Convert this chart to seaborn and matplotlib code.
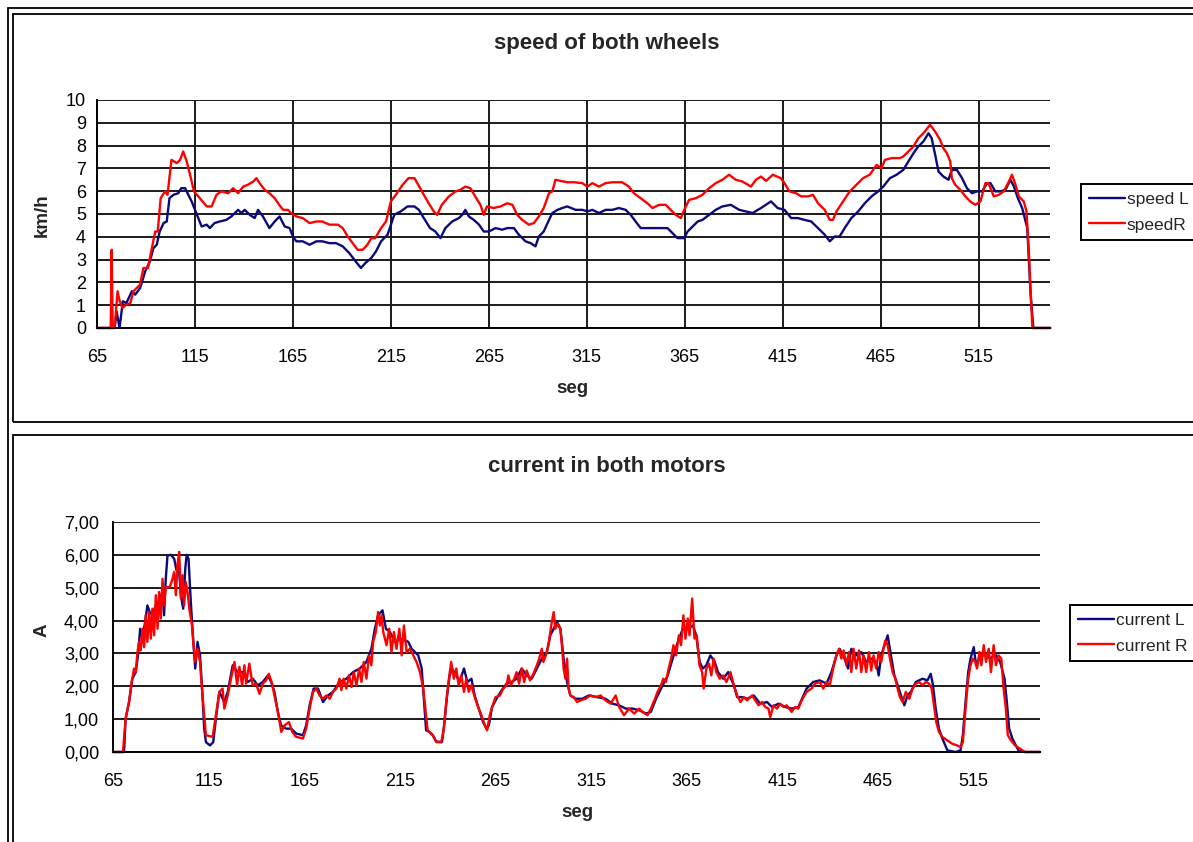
import numpy as np
import pandas as pd
import seaborn as sns
import matplotlib.pyplot as plt
from matplotlib.patches import Rectangle
from matplotlib.ticker import FuncFormatter

sns.set_style("white")
plt.rcParams['font.family'] = ['Liberation Sans', 'DejaVu Sans']

# speed of both wheels (km/h)
speed_seg_L = [65, 74, 75, 76.5, 78.2, 80, 82.8, 84.5, 87, 89.6,
               92, 93.8, 95.5, 97, 99, 100.6, 102, 104, 106.5, 108,
               110, 111.6, 113.3, 115, 116.7, 118.4, 121, 122.6, 125, 127.7,
               131, 133.6, 137, 138.7, 140.4, 143, 145.5, 147.2, 149.7, 153,
               155.7, 158.2, 160.8, 163.3, 165, 166.7, 170, 173.5, 177, 180,
               183.6, 187, 190.4, 193.8, 197, 199.7, 202, 205, 207.4, 210,
               213.3, 215, 216.7, 220, 223.5, 227, 229.3, 231.8, 235, 237.7,
               240.3, 242.8, 246.3, 249.7, 251.4, 253, 254.8, 257.3, 260, 262.4,
               265, 268.4, 271.8, 274.4, 277.8, 280.3, 283.7, 286.3, 288.8, 290.5,
               293, 295.7, 297.4, 300, 302.5, 305, 309.3, 312.7, 315.3, 317.8,
               321.2, 324.6, 328, 331.4, 334.8, 337.4, 339.9, 342.5, 346.8, 351.9,
               356.2, 358.7, 361.3, 364.7, 366.4, 369, 371.6, 374, 377.4, 380.8,
               384.2, 388.5, 392.8, 399.6, 403.9, 409, 412.4, 415.9, 419.3, 422.7,
               426.1, 429.5, 433, 436.4, 439, 441.5, 444, 446.6, 450, 453.5,
               456.9, 460.3, 463.7, 466.3, 469.7, 473.1, 476.5, 479.1, 481.7, 484.2,
               486.8, 489.4, 491, 492.8, 494.5, 497, 499.6, 501.3, 503.9, 506.5,
               509, 511.6, 514.1, 516.7, 519.3, 521, 523.5, 526.1, 528.7, 531.2,
               533, 535, 537.2, 539.8, 541.5, 542.9, 551.5]
speed_L = [0, 0, 0.73, 0, 1.17, 1.09, 1.61, 1.46, 1.75, 2.48,
           2.92, 3.50, 3.65, 4.23, 4.60, 4.67, 5.69, 5.84, 5.91, 6.13,
           6.13, 5.84, 5.55, 5.18, 4.82, 4.45, 4.53, 4.38, 4.60, 4.67,
           4.74, 4.89, 5.18, 5.04, 5.18, 4.96, 4.82, 5.18, 4.89, 4.38,
           4.67, 4.89, 4.45, 4.38, 4.01, 3.80, 3.80, 3.65, 3.80, 3.80,
           3.72, 3.72, 3.58, 3.28, 2.92, 2.63, 2.85, 3.07, 3.36, 3.80,
           4.09, 4.53, 4.96, 5.11, 5.33, 5.33, 5.18, 4.82, 4.38, 4.23,
           3.94, 4.38, 4.67, 4.82, 4.96, 5.18, 4.89, 4.74, 4.53, 4.23,
           4.23, 4.38, 4.31, 4.38, 4.38, 4.09, 3.80, 3.72, 3.58, 4.01,
           4.23, 4.74, 5.04, 5.18, 5.26, 5.33, 5.18, 5.18, 5.11, 5.18,
           5.04, 5.18, 5.18, 5.26, 5.18, 4.96, 4.67, 4.38, 4.38, 4.38,
           4.38, 4.16, 3.94, 3.94, 4.23, 4.45, 4.67, 4.74, 4.96, 5.18,
           5.33, 5.40, 5.18, 5.04, 5.26, 5.55, 5.26, 5.18, 4.82, 4.82,
           4.74, 4.67, 4.38, 4.09, 3.80, 4.01, 4.01, 4.38, 4.82, 5.11,
           5.47, 5.77, 5.99, 6.20, 6.57, 6.72, 6.93, 7.30, 7.66, 7.96,
           8.18, 8.54, 8.32, 7.59, 6.86, 6.64, 6.50, 6.93, 6.93, 6.57,
           6.13, 5.91, 5.99, 5.99, 6.35, 6.35, 5.99, 5.99, 6.06, 6.50,
           6.20, 5.69, 5.26, 4.38, 1.46, 0, 0]

speed_seg_R = [65, 72, 72.5, 73, 74, 75.5, 76.5, 78, 80, 82,
               83.6, 87, 88.7, 91, 93, 94.7, 96, 97.5, 99.7, 101,
               103, 105.7, 107.4, 109, 110.8, 112.5, 114.5, 117.5, 121, 123.5,
               126, 128.5, 132, 134.5, 137, 139.6, 142, 144.7, 146.4, 148,
               150.6, 153, 155.7, 158, 160, 162.5, 164, 166.7, 170, 173.5,
               177, 180, 183.6, 188, 190.4, 193, 195.5, 198, 200.6, 203,
               205, 207, 210, 212.5, 215, 217.5, 221, 224, 227, 229.5,
               231.8, 234.3, 236.9, 238.6, 241, 244.6, 248, 250.5, 253, 255.6,
               258, 260.7, 262.4, 264, 267.5, 271, 274.4, 277, 279.5, 282,
               285.4, 288, 290.5, 293, 295.7, 297.4, 299, 301.6, 305, 308.4,
               312.7, 315.3, 317.8, 321.2, 324.6, 328, 333, 336.5, 339, 342.5,
               345.9, 348.5, 351.9, 355.3, 357.8, 360.4, 363, 364.7, 367.2, 370.6,
               374, 377.4, 380.8, 384.2, 387.6, 391, 394.5, 398.8, 401.3, 403.9,
               406.5, 409.9, 414, 415.9, 418.4, 421.8, 424.4, 427.8, 430.4, 433,
               436.4, 439, 440.6, 442.4, 445.8, 449.2, 452.6, 456, 459.4, 462.9,
               465.4, 467.1, 470.6, 474.8, 476.5, 479.1, 481.7, 484.2, 486.8, 490.2,
               492.8, 495.3, 497, 498.8, 500.5, 501.3, 503, 505.6, 508.2, 510.7,
               513.3, 515.9, 518.4, 520, 522.7, 525.3, 527.8, 530.4, 532, 533.8,
               535.5, 538, 539.4, 540.6, 542.4, 551.5]
speed_R = [0, 0, 3.43, 0, 0, 1.61, 1.20, 0.88, 1.02, 1.09,
           1.61, 1.90, 2.63, 2.63, 3.50, 4.23, 4.23, 5.69, 5.99, 5.84,
           7.37, 7.23, 7.37, 7.74, 7.30, 6.72, 5.99, 5.69, 5.33, 5.33,
           5.84, 5.99, 5.91, 6.13, 5.91, 6.20, 6.28, 6.42, 6.57, 6.35,
           6.06, 5.91, 5.69, 5.40, 5.18, 5.18, 5.04, 4.89, 4.82, 4.60,
           4.67, 4.67, 4.53, 4.53, 4.38, 4.01, 3.72, 3.43, 3.43, 3.65,
           3.94, 3.94, 4.38, 4.67, 5.55, 5.84, 6.28, 6.57, 6.57, 6.20,
           5.84, 5.47, 5.11, 4.96, 5.40, 5.77, 5.99, 6.06, 6.20, 6.13,
           5.77, 5.40, 4.96, 5.33, 5.26, 5.33, 5.47, 5.40, 4.96, 4.74,
           4.53, 4.60, 4.89, 5.26, 5.91, 5.99, 6.50, 6.45, 6.39, 6.39,
           6.35, 6.20, 6.35, 6.20, 6.35, 6.39, 6.39, 6.20, 5.91, 5.69,
           5.47, 5.26, 5.40, 5.40, 5.18, 4.96, 4.82, 5.18, 5.62, 5.69,
           5.84, 6.13, 6.35, 6.50, 6.72, 6.50, 6.42, 6.20, 6.50, 6.64,
           6.45, 6.72, 6.57, 6.35, 5.99, 5.91, 5.77, 5.77, 5.84, 5.47,
           5.18, 4.74, 4.74, 5.11, 5.55, 5.99, 6.28, 6.57, 6.72, 7.15,
           7.01, 7.37, 7.45, 7.45, 7.52, 7.74, 7.96, 8.32, 8.54, 8.91,
           8.61, 8.25, 7.88, 7.66, 7.30, 6.57, 6.28, 6.06, 5.77, 5.55,
           5.40, 5.55, 6.35, 6.35, 5.77, 5.84, 5.99, 6.42, 6.72, 6.28,
           5.77, 5.55, 5.11, 3.36, 0, 0]

# current in both motors (A)
cur_seg_L = [65, 70.8, 71.6, 73.4, 75.1, 76.9, 78.1, 79.2, 80.4, 81.8,
             83, 84.2, 85.6, 87.4, 89.1, 90.9, 91.7, 92.6, 93.5, 95.2,
             97, 98.2, 99.3, 100.5, 101.7, 102.8, 103.5, 104.5, 105.7, 107,
             108, 109.2, 110.5, 111.5, 112.7, 113.6, 115.7, 117.4, 118.8, 120.6,
             123.2, 125, 127.6, 130.2, 132.8, 135.5, 138.1, 140.7, 143.3, 146,
             147.7, 149.4, 151.2, 152.9, 155.6, 158.2, 160.8, 164.3, 166, 167.8,
             169.9, 172.2, 174.8, 177.4, 180, 183.5, 187, 190.5, 194, 197.5,
             200.1, 201.9, 203.6, 205.9, 207.7, 209.8, 212.4, 215, 217.6, 219.4,
             221.1, 222.9, 224.6, 226.4, 228.7, 230.4, 232.2, 234, 237, 238.3,
             239.7, 241, 242.2, 244.5, 246.2, 248.5, 250.3, 252.4, 254.1, 256.2,
             258.5, 260.3, 261.5, 263.2, 265.5, 268.2, 270.8, 273.4, 276, 278.7,
             281.3, 283.9, 286.6, 289.2, 291.8, 293.6, 295.4, 297.1, 298.9, 300.6,
             302.4, 304.1, 306.8, 310.3, 313.8, 318.2, 322.5, 326.1, 329.6, 333.1,
             336.6, 340.1, 343.6, 346.2, 348.9, 352.4, 355, 357.6, 360.3, 362.9,
             365.5, 368.2, 369.9, 371.7, 373.4, 375.2, 377.3, 379.6, 381.3, 384,
             386.6, 389.6, 391.3, 393.9, 396.5, 400, 403.4, 406.9, 409.5, 412.9,
             416.4, 419.8, 423.3, 427.6, 431.1, 434.5, 438, 440.6, 443.2, 444.9,
             447.5, 449.3, 451, 453.6, 456.2, 458.8, 461.4, 464, 465.3, 466.6,
             468.3, 470, 471.7, 473.5, 475.2, 476.9, 478.7, 480.4, 482.1, 484.7,
             488.2, 490.8, 492.5, 493.7, 495.1, 496.8, 498.6, 501.2, 505.5, 508.1,
             509.3, 510.7, 512.1, 513.3, 515, 516.2, 518.5, 521.1, 523.7, 526.2,
             528.8, 531.1, 532.3, 533.5, 535.2, 537, 538.4, 541.8, 549.6]
cur_L = [0, 0, 1.01, 1.52, 2.23, 2.43, 2.94, 3.75, 3.45, 3.96,
         4.46, 4.26, 4.16, 4.46, 4.56, 4.87, 4.16, 5.27, 5.98, 6.00,
         5.88, 5.53, 5.68, 4.77, 4.36, 5.58, 6.00, 5.88, 4.56, 3.35,
         2.54, 3.35, 2.94, 2.03, 0.71, 0.30, 0.20, 0.30, 1.01, 1.83,
         1.52, 1.83, 2.64, 2.43, 2.43, 2.13, 2.23, 2.03, 2.13, 2.33,
         2.13, 1.83, 1.22, 0.81, 0.71, 0.71, 0.56, 0.51, 0.81, 1.42,
         1.93, 1.93, 1.52, 1.72, 1.83, 2.13, 2.23, 2.43, 2.54, 2.74,
         3.14, 3.75, 4.16, 4.31, 3.75, 3.65, 3.35, 3.45, 3.40, 3.35,
         3.14, 3.04, 2.94, 2.54, 0.66, 0.61, 0.51, 0.32, 0.30, 0.91,
         1.72, 2.33, 2.54, 2.33, 2.13, 2.54, 2.13, 2.23, 1.72, 1.32,
         0.91, 0.71, 0.81, 1.37, 1.62, 1.88, 2.08, 2.13, 2.23, 2.54,
         2.33, 2.23, 2.54, 2.84, 3.04, 3.55, 3.75, 3.96, 3.75, 2.84,
         2.13, 1.72, 1.62, 1.62, 1.72, 1.67, 1.62, 1.47, 1.42, 1.32,
         1.32, 1.27, 1.17, 1.22, 1.62, 2.03, 2.33, 2.84, 3.35, 3.75,
         3.75, 3.85, 3.55, 2.74, 2.54, 2.64, 2.94, 2.74, 2.43, 2.23,
         2.43, 2.03, 1.67, 1.67, 1.62, 1.72, 1.47, 1.52, 1.37, 1.47,
         1.37, 1.32, 1.37, 1.93, 2.13, 2.18, 2.08, 2.43, 2.94, 3.14,
         2.84, 2.54, 3.14, 2.94, 3.04, 2.74, 2.84, 2.74, 2.33, 2.94,
         3.25, 3.55, 2.94, 2.33, 2.03, 1.72, 1.42, 1.72, 1.83, 2.13,
         2.23, 2.18, 2.38, 2.03, 1.32, 0.71, 0.41, 0.05, 0, 0.05,
         0.51, 1.52, 2.43, 2.84, 3.19, 2.64, 2.94, 2.94, 2.84, 2.99,
         2.74, 2.23, 1.52, 0.71, 0.41, 0.20, 0.05, 0, 0]

cur_seg_R = [65, 70.2, 71.6, 73.4, 74.8, 76, 76.9, 77.8, 78.6, 79.5,
             80.4, 81.3, 82.1, 83, 83.9, 84.8, 85.6, 86.5, 87.4, 88.3,
             89.1, 90, 90.9, 91.7, 92.6, 94.7, 96.1, 97, 97.9, 98.7,
             99.6, 100.5, 101.4, 102.2, 103.1, 104, 104.9, 106.3, 107, 108,
             109.2, 110.5, 111.5, 112.7, 113.6, 117.1, 118.8, 120.6, 122.3, 123.2,
             125, 126.7, 128.5, 129.9, 131.1, 132.5, 133.7, 134.6, 136.3, 138,
             139.8, 141.6, 143.3, 145.1, 146.5, 148.2, 149.4, 151.2, 153, 154.7,
             157, 158.7, 160.8, 164.3, 166, 167.8, 169.6, 171.3, 173, 174.8,
             176.5, 178.3, 180, 181.8, 183.5, 184.4, 185.6, 187, 188.4, 189.7,
             190.9, 192.3, 193.7, 194.9, 196.1, 197.5, 198.9, 200.1, 201, 202.4,
             203.6, 204.5, 205.4, 206.3, 208, 209.4, 210.6, 211.9, 213.2, 214.7,
             215.9, 217.1, 218.5, 220.2, 222, 223.7, 225.5, 227.2, 229.5, 232.2,
             234, 236.6, 238, 239.2, 240.4, 241.8, 243.2, 244.5, 245.7, 247.1,
             248.5, 249.7, 251, 252.4, 254.1, 255.9, 257.6, 259.4, 260.6, 262,
             263.2, 265, 267.3, 269, 270.8, 271.7, 273, 274.8, 276, 277.3,
             278.7, 280, 281.3, 283, 284.8, 286.6, 287.8, 289.2, 290, 291.3,
             292.7, 294.1, 295.4, 296.2, 297.6, 298.9, 299.7, 300.6, 301.5, 302.4,
             303.2, 304.1, 305.9, 307.6, 309.4, 312, 314.6, 317.3, 319.9, 322.5,
             325.2, 327.8, 329.6, 332.2, 334.8, 337.5, 340.1, 341.8, 344.5, 346.2,
             348, 349.7, 351.5, 352.7, 354.1, 355.5, 356.8, 358, 359.4, 360.8,
             362, 363.2, 364.3, 365.5, 366.4, 367.8, 369, 370.2, 371.6, 373,
             373.8, 375.2, 376.6, 377.8, 379, 380.4, 382.2, 384, 385.7, 387.8,
             389.6, 391.3, 393, 394.8, 396.5, 399.1, 400.8, 402.5, 404.3, 406,
             407.7, 408.6, 410.3, 412.1, 413.8, 415.5, 417.2, 419.8, 421.6, 423.3,
             425, 427.6, 430.2, 432, 434.5, 436.3, 438, 439.7, 441.5, 443.2,
             444.6, 445.8, 447, 448.4, 449.8, 451, 452.2, 453.6, 455, 456.2,
             457.4, 458.8, 460.2, 461.4, 462.6, 464, 465.3, 466.6, 467.8, 468.8,
             470, 471.2, 472.6, 474, 475.2, 476.4, 477.8, 479.5, 481.3, 483,
             484.7, 486.5, 488.2, 489.9, 491.6, 493, 494.2, 495.4, 496.8, 498.6,
             501.2, 503.8, 506.3, 508.1, 509.3, 510.7, 512.1, 513.3, 514.5, 515.9,
             516.7, 518, 519, 520.2, 521.4, 522.8, 524, 525.4, 526.6, 528,
             529.4, 530.6, 531.8, 532.8, 534.5, 536.6, 539.2, 541.8, 549.6]
cur_R = [0, 0, 1.01, 1.52, 2.13, 2.54, 2.43, 3.04, 3.35, 3.09,
         3.75, 3.19, 4.16, 3.35, 4.26, 3.45, 4.36, 3.55, 4.77, 3.75,
         4.87, 4.06, 5.27, 4.46, 5.02, 5.02, 5.27, 5.48, 4.77, 5.68,
         6.09, 4.67, 5.38, 4.46, 5.17, 4.87, 4.36, 3.85, 3.35, 2.74,
         3.14, 2.74, 1.93, 1.12, 0.51, 0.46, 1.12, 1.83, 1.93, 1.32,
         1.72, 2.23, 2.74, 2.03, 2.59, 2.03, 2.64, 2.08, 2.69, 2.03,
         2.08, 1.77, 2.08, 2.18, 2.38, 2.08, 1.72, 1.22, 0.61, 0.81,
         0.91, 0.61, 0.46, 0.41, 0.71, 1.32, 1.83, 1.93, 1.72, 1.62,
         1.72, 1.62, 1.83, 1.93, 2.23, 1.88, 2.23, 1.93, 2.33, 1.98,
         2.43, 2.03, 2.54, 2.13, 2.74, 2.23, 2.94, 2.64, 3.35, 3.65,
         4.26, 3.85, 4.16, 3.65, 3.25, 3.75, 3.04, 3.65, 3.14, 3.75,
         2.94, 3.85, 3.04, 3.14, 2.94, 2.74, 2.43, 1.93, 0.66, 0.51,
         0.30, 0.30, 0.71, 1.52, 2.13, 2.74, 2.23, 2.54, 2.03, 2.33,
         1.83, 2.23, 1.83, 2.03, 1.67, 1.37, 1.12, 0.81, 0.66, 1.12,
         1.37, 1.67, 1.72, 1.93, 2.03, 2.33, 2.03, 2.23, 2.43, 2.08,
         2.54, 2.13, 2.48, 2.18, 2.38, 2.64, 2.84, 3.14, 2.74, 2.94,
         3.25, 3.85, 4.26, 3.75, 3.90, 3.75, 3.25, 2.54, 2.23, 2.84,
         1.93, 1.72, 1.67, 1.52, 1.57, 1.62, 1.72, 1.67, 1.72, 1.57,
         1.47, 1.72, 1.37, 1.12, 1.32, 1.17, 1.32, 1.22, 1.12, 1.32,
         1.57, 1.83, 2.03, 2.23, 2.13, 2.54, 2.84, 3.25, 2.94, 3.55,
         3.25, 4.16, 3.45, 4.06, 3.55, 4.67, 3.45, 3.55, 2.64, 2.43,
         1.93, 2.54, 2.69, 2.33, 2.84, 2.43, 2.23, 2.33, 2.13, 2.43,
         2.03, 1.72, 1.52, 1.67, 1.57, 1.72, 1.57, 1.42, 1.52, 1.37,
         1.32, 1.06, 1.42, 1.32, 1.47, 1.37, 1.42, 1.22, 1.37, 1.32,
         1.57, 1.83, 1.93, 2.08, 2.13, 1.93, 2.13, 2.03, 2.54, 2.94,
         3.14, 2.84, 3.09, 2.64, 3.04, 2.43, 3.14, 2.54, 3.09, 2.43,
         2.94, 2.43, 3.04, 2.48, 2.94, 2.54, 3.04, 2.74, 3.14, 3.40,
         3.25, 2.84, 2.43, 2.23, 1.93, 1.67, 1.52, 1.83, 1.62, 1.93,
         2.08, 2.13, 2.03, 2.13, 2.08, 1.93, 1.42, 0.91, 0.61, 0.46,
         0.35, 0.25, 0.20, 0.15, 0.30, 1.32, 2.23, 2.64, 2.84, 2.74,
         2.54, 3.04, 2.64, 3.25, 2.74, 3.14, 2.43, 3.25, 2.64, 2.94,
         2.84, 1.93, 1.32, 0.51, 0.35, 0.20, 0.10, 0, 0]

seg_ticks = [65, 115, 165, 215, 265, 315, 365, 415, 465, 515]

navy = "#0a0a7a"
red = "#ff0000"
grid_kw = dict(color="#1a1a1a", linewidth=1.4)

fig = plt.figure(figsize=(11.93, 8.42), dpi=100)

# page and chart-area frames
fig.add_artist(Rectangle((0.0067, -0.1), 1.5, 1.0905, transform=fig.transFigure,
                         fill=False, ec="black", lw=1.3))
fig.add_artist(Rectangle((0.0109, 0.4988), 1.5, 0.4846, transform=fig.transFigure,
                         fill=False, ec="black", lw=1.3))
fig.add_artist(Rectangle((0.0109, -0.1), 1.5, 0.5834, transform=fig.transFigure,
                         fill=False, ec="black", lw=1.3))

ax1 = fig.add_axes([0.0813, 0.6105, 0.7990, 0.2708])
ax2 = fig.add_axes([0.0947, 0.1069, 0.7770, 0.2732])

line_kw = dict(lw=1.7, estimator=None, clip_on=False)
sns.lineplot(x=speed_seg_L, y=speed_L, ax=ax1, color=navy, label="speed L", **line_kw)
sns.lineplot(x=speed_seg_R, y=speed_R, ax=ax1, color=red, label="speedR", **line_kw)
sns.lineplot(x=cur_seg_L, y=cur_L, ax=ax2, color=navy, label="current L", **line_kw)
sns.lineplot(x=cur_seg_R, y=cur_R, ax=ax2, color=red, label="current R", **line_kw)

ax1.set_xlim(65, 551.5)
ax1.set_ylim(0, 10)
ax1.set_yticks(range(0, 11))
ax2.set_xlim(65, 549.6)
ax2.set_ylim(0, 7)
ax2.set_yticks(range(0, 8))
ax2.yaxis.set_major_formatter(FuncFormatter(lambda v, p: f"{v:.2f}".replace(".", ",")))

for ax in (ax1, ax2):
    ax.set_xticks(seg_ticks)
    ax.set_xlabel("")
    ax.set_ylabel("")
    ax.set_axisbelow(True)
    ax.yaxis.grid(True, **grid_kw)
    for s in ("top", "right"):
        ax.spines[s].set_visible(False)
    for s in ("left", "bottom"):
        ax.spines[s].set_color("black")
        ax.spines[s].set_linewidth(1.4)
    ax.tick_params(axis="both", direction="out", length=5, width=1.4,
                   color="black", labelsize=13, labelcolor="black")
    ax.tick_params(axis="x", pad=10)
ax1.tick_params(axis="y", pad=3)
ax2.tick_params(axis="y", pad=5)
ax1.xaxis.grid(True, **grid_kw)

leg_kw = dict(loc="upper left", bbox_transform=fig.transFigure, fontsize=12.5,
              frameon=True, fancybox=False, framealpha=1, edgecolor="black",
              handlelength=2.1, handletextpad=0.1, borderpad=0.45,
              labelspacing=0.6, borderaxespad=0)
lg1 = ax1.legend(bbox_to_anchor=(0.906, 0.7815), **leg_kw)
lg2 = ax2.legend(bbox_to_anchor=(0.897, 0.2815), **leg_kw)
for lg in (lg1, lg2):
    lg.get_frame().set_linewidth(1.4)
    for h in lg.get_lines():
        h.set_linewidth(1.7)

fig.text(0.509, 0.948, "speed of both wheels", ha="center", va="center",
         fontsize=16, fontweight="bold")
fig.text(0.509, 0.4465, "current in both motors", ha="center", va="center",
         fontsize=16, fontweight="bold")
fig.text(0.0352, 0.7447, "km/h", ha="center", va="center", rotation=90,
         fontsize=13.5, fontweight="bold")
fig.text(0.0352, 0.252, "A", ha="center", va="center", rotation=90,
         fontsize=13.5, fontweight="bold")
fig.text(0.4795, 0.539, "seg", ha="center", va="center",
         fontsize=13.5, fontweight="bold")
fig.text(0.4837, 0.0356, "seg", ha="center", va="center",
         fontsize=13.5, fontweight="bold")

fig.savefig("out.png", dpi=100)
